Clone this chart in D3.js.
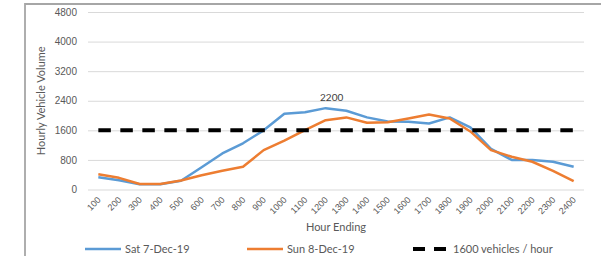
<!DOCTYPE html>
<html>
<head>
<meta charset="utf-8">
<script src="https://cdn.jsdelivr.net/npm/d3@7"></script>
<style>
  body { margin: 0; background: #fff; }
  svg { display: block; font-family: Lato, 'Open Sans', sans-serif; }
</style>
</head>
<body>
<div id="wrapper"></div>
<script>
/* DATA */
const hours = ['100', '200', '300', '400', '500', '600', '700', '800', '900', '1000',
  '1100', '1200', '1300', '1400', '1500', '1600', '1700', '1800', '1900', '2000',
  '2100', '2200', '2300', '2400'];
const satValues = [330, 250, 140, 140, 235, 600, 975, 1250, 1600, 2050,
  2090, 2200, 2130, 1950, 1840, 1830, 1785, 1950, 1680, 1100,
  800, 795, 750, 615];
const sunValues = [410, 315, 150, 150, 245, 385, 505, 615, 1065, 1320,
  1605, 1875, 1950, 1805, 1820, 1920, 2030, 1920, 1570, 1065,
  885, 750, 505, 225];
const capacity = 1600;
const yTicks = [0, 800, 1600, 2400, 3200, 4000, 4800];
const seriesNames = ['Sat 7-Dec-19', 'Sun 8-Dec-19', '1600 vehicles / hour'];

function drawChart() {
  /* CHART DIMENSIONS */
  const dimensions = {
    width: 601,
    height: 256,
    plotLeft: 88,
    plotRight: 584,
    plotTop: 12,
    plotBottom: 189.5,
  };

  const svg = d3.select('#wrapper')
    .append('svg')
    .attr('width', dimensions.width)
    .attr('height', dimensions.height);

  // outer frame (left and top edges visible)
  svg.append('path')
    .attr('d', 'M25,256 V4 H601')
    .attr('fill', 'none')
    .attr('stroke', '#a6a6a6')
    .attr('stroke-width', 1.8);

  /* SCALES */
  const xScale = d3.scaleBand()
    .domain(hours)
    .range([dimensions.plotLeft, dimensions.plotRight]);
  const xCenter = h => xScale(h) + xScale.bandwidth() / 2;

  const yScale = d3.scaleLinear()
    .domain([0, 4800])
    .range([dimensions.plotBottom, dimensions.plotTop]);

  /* GRID + Y AXIS */
  const yAxis = svg.append('g')
    .attr('transform', `translate(${dimensions.plotLeft},0)`)
    .call(d3.axisLeft(yScale)
      .tickValues(yTicks)
      .tickFormat(d3.format('d'))
      .tickSize(-(dimensions.plotRight - dimensions.plotLeft))
      .tickPadding(11));
  yAxis.select('.domain').remove();
  yAxis.selectAll('.tick line').attr('stroke', '#d9d9d9').attr('stroke-width', 1);
  yAxis.selectAll('.tick text')
    .attr('fill', '#595959')
    .style('font-size', '10px');

  /* X AXIS */
  const xAxis = svg.append('g')
    .attr('transform', `translate(0,${dimensions.plotBottom})`)
    .call(d3.axisBottom(xScale).tickSize(0).tickPadding(0));
  xAxis.select('.domain').remove();
  xAxis.selectAll('.tick text')
    .attr('fill', '#595959')
    .style('font-size', '9px')
    .attr('text-anchor', 'end')
    .attr('dy', 0)
    .attr('transform', 'translate(3,11) rotate(-45)');

  svg.append('text')
    .attr('x', (dimensions.plotLeft + dimensions.plotRight) / 2)
    .attr('y', 231)
    .attr('text-anchor', 'middle')
    .attr('fill', '#595959')
    .style('font-size', '11px')
    .text('Hour Ending');

  svg.append('text')
    .attr('transform', `translate(45,${(dimensions.plotTop + dimensions.plotBottom) / 2}) rotate(-90)`)
    .attr('text-anchor', 'middle')
    .attr('fill', '#595959')
    .style('font-size', '11px')
    .text('Hourly Vehicle Volume');

  /* DRAW DATA */
  const line = d3.line()
    .x((d, i) => xCenter(hours[i]))
    .y(d => yScale(d));

  svg.append('path')
    .datum(satValues)
    .attr('d', line)
    .attr('fill', 'none')
    .attr('stroke', '#5b9bd5')
    .attr('stroke-width', 2.5)
    .attr('stroke-linejoin', 'round');

  svg.append('path')
    .datum(sunValues)
    .attr('d', line)
    .attr('fill', 'none')
    .attr('stroke', '#ed7d31')
    .attr('stroke-width', 2.5)
    .attr('stroke-linejoin', 'round');

  svg.append('path')
    .datum(hours.map(() => capacity))
    .attr('d', line)
    .attr('fill', 'none')
    .attr('stroke', '#000')
    .attr('stroke-width', 4)
    .attr('stroke-dasharray', '12.5 9.5');

  // data label at the Saturday peak
  const peakIndex = d3.maxIndex(satValues);
  svg.append('text')
    .attr('x', xCenter(hours[peakIndex]) + 6)
    .attr('y', yScale(satValues[peakIndex]) - 7)
    .attr('text-anchor', 'middle')
    .attr('fill', '#404040')
    .style('font-size', '10px')
    .text(satValues[peakIndex]);

  /* LEGEND */
  const legendItems = [
    { name: seriesNames[0], color: '#5b9bd5', x: 85, dash: null, w: 2.5 },
    { name: seriesNames[1], color: '#ed7d31', x: 247, dash: null, w: 2.5 },
    { name: seriesNames[2], color: '#000', x: 413, dash: '12 9', w: 4 },
  ];
  const legend = svg.append('g').attr('transform', 'translate(0,249)');
  legendItems.forEach(item => {
    legend.append('line')
      .attr('x1', item.x)
      .attr('x2', item.x + 36)
      .attr('y1', 0)
      .attr('y2', 0)
      .attr('stroke', item.color)
      .attr('stroke-width', item.w)
      .attr('stroke-dasharray', item.dash);
    legend.append('text')
      .attr('x', item.x + 40)
      .attr('y', 3.5)
      .attr('fill', '#595959')
      .style('font-size', '11px')
      .text(item.name);
  });
}

drawChart();
</script>
</body>
</html>
